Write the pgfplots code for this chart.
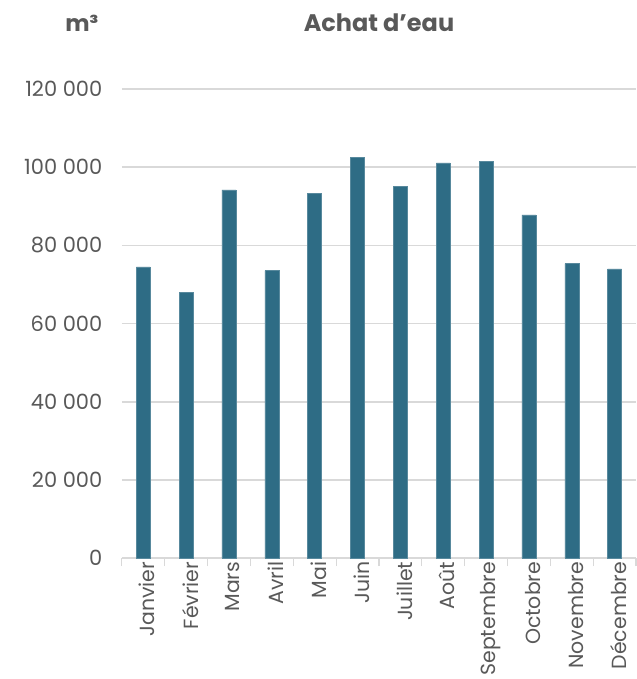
\documentclass[border=0pt]{standalone}
\usepackage{fontspec}
\setmainfont{Poppins}
\usepackage{pgfplots}
\pgfplotsset{compat=1.18}
\definecolor{barc}{HTML}{2E6C85}
\definecolor{txt}{HTML}{595959}
\definecolor{gridc}{HTML}{D9D9D9}
\begin{document}
\begin{tikzpicture}
\begin{axis}[
  scale only axis,
  width=515pt, height=470pt,
  xmin=-0.5, xmax=11.5,
  ymin=0, ymax=120000,
  scaled y ticks=false,
  ytick={0,20000,40000,60000,80000,100000,120000},
  yticklabels={0,20 000,40 000,60 000,80 000,100 000,120 000},
  xtick={0,...,11},
  xticklabels={Janvier,Février,Mars,Avril,Mai,Juin,Juillet,Août,Septembre,Octobre,Novembre,Décembre},
  minor xtick={-0.5,0.5,...,11.5},
  major tick length=0pt,
  minor tick length=8pt,
  tick align=outside,
  tick style={draw=gridc, line width=1.2pt},
  axis x line*=bottom,
  axis y line*=left,
  y axis line style={draw=none},
  x axis line style={draw=gridc, line width=1.5pt},
  ymajorgrids,
  major grid style={draw=gridc, line width=1.5pt},
  yticklabel style={font=\fontsize{21}{23}\selectfont, text=txt, anchor=east, xshift=-16pt},
  xticklabel style={font=\fontsize{20.5}{22}\selectfont, text=txt, rotate=90, anchor=east, yshift=-4pt},
  ybar, bar width=14pt,
]
\addplot[fill=barc, draw=barc!80!white, line width=0.5pt] coordinates {
  (0,74500) (1,67900) (2,94200) (3,73500) (4,93200) (5,102400)
  (6,95000) (7,101100) (8,101400) (9,87800) (10,75300) (11,74000)};
\end{axis}
\node[text=txt, font=\fontsize{24}{26}\selectfont\bfseries] at (257.5pt,536pt) {Achat d'eau};
\node[text=txt, font=\fontsize{23}{25}\selectfont\bfseries, anchor=east] at (-20pt,536pt) {m³};
\useasboundingbox (-122pt,-120pt) rectangle (515pt,559pt);
\end{tikzpicture}
\end{document}
